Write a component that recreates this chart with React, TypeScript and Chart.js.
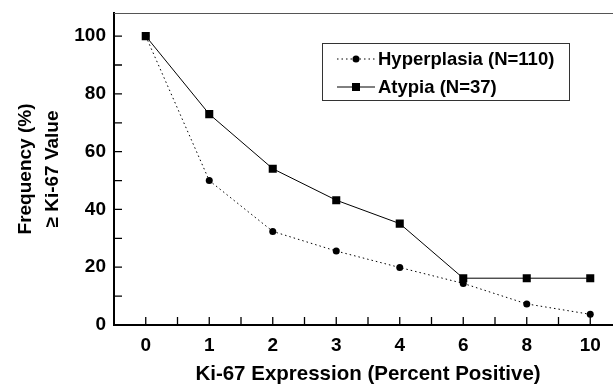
import React, { useEffect, useRef } from "react";
import { Chart, registerables } from "chart.js";

Chart.register(...registerables);

const categories = ["0", "1", "2", "3", "4", "6", "8", "10"];
const hyperplasia = [100, 50, 32.4, 25.6, 19.9, 14.4, 7.3, 3.7];
const atypia = [100, 73, 54.1, 43.2, 35.1, 16.2, 16.2, 16.2];
const yTickValues = [0, 10, 20, 30, 40, 50, 60, 70, 80, 90, 100];
const seriesLabels = ["Hyperplasia (N=110)", "Atypia (N=37)"];

const FONT = "'Liberation Sans', Arial, Helvetica, sans-serif";

const innerTicks = {
  id: "innerTicks",
  afterDraw(chart: any) {
    const { ctx, chartArea } = chart;
    const xs = chart.scales.x;
    const ys = chart.scales.y;
    ctx.save();
    ctx.beginPath();
    ctx.strokeStyle = "#555";
    ctx.lineWidth = 1;
    ctx.moveTo(chartArea.left, chartArea.top + 0.5);
    ctx.lineTo(chartArea.right, chartArea.top + 0.5);
    ctx.stroke();
    ctx.strokeStyle = "#000";
    ctx.lineWidth = 1.3;
    ctx.beginPath();
    ys.ticks.forEach((t: any) => {
      const y = ys.getPixelForValue(t.value);
      ctx.moveTo(chartArea.left, y);
      ctx.lineTo(chartArea.left + 8, y);
    });
    const n = categories.length;
    for (let i = 0; i < n; i++) {
      const x = xs.getPixelForValue(i);
      ctx.moveTo(x, chartArea.bottom);
      ctx.lineTo(x, chartArea.bottom - 8);
      if (i < n - 1) {
        const xm = (x + xs.getPixelForValue(i + 1)) / 2;
        ctx.moveTo(xm, chartArea.bottom);
        ctx.lineTo(xm, chartArea.bottom - 8);
      }
    }
    ctx.stroke();
    ctx.restore();
  },
};

const boxLegend = {
  id: "boxLegend",
  afterDraw(chart: any) {
    const { ctx, chartArea } = chart;
    const left = chartArea.left + 208;
    const top = chartArea.top + 30;
    const w = 247;
    const h = 57;
    ctx.save();
    ctx.strokeStyle = "#333";
    ctx.lineWidth = 1;
    ctx.strokeRect(left + 0.5, top + 0.5, w, h);
    ctx.font = `bold 18.5px ${FONT}`;
    ctx.fillStyle = "#000";
    ctx.textBaseline = "middle";
    chart.data.datasets.forEach((ds: any, i: number) => {
      const cy = top + 16 + i * 28;
      const x0 = left + 15;
      const x1 = left + 53;
      const xm = (x0 + x1) / 2;
      ctx.beginPath();
      ctx.setLineDash(ds.borderDash || []);
      ctx.strokeStyle = ds.borderColor;
      ctx.lineWidth = 1;
      ctx.moveTo(x0, cy);
      ctx.lineTo(x1, cy);
      ctx.stroke();
      ctx.setLineDash([]);
      ctx.fillStyle = "#000";
      if (ds.pointStyle === "rect") {
        ctx.fillRect(xm - 4, cy - 4, 8, 8);
      } else {
        ctx.beginPath();
        ctx.arc(xm, cy, 3.5, 0, Math.PI * 2);
        ctx.fill();
      }
      ctx.fillText(ds.label, left + 56, cy + 1);
    });
    ctx.restore();
  },
};

export default function App() {
  const ref = useRef<HTMLCanvasElement>(null);
  useEffect(() => {
    const canvas = ref.current!;
    const chart = new Chart(canvas, {
      type: "line",
      data: {
        labels: categories,
        datasets: [
          {
            label: seriesLabels[0],
            data: hyperplasia,
            borderColor: "#000",
            backgroundColor: "#000",
            borderWidth: 1,
            borderDash: [1.5, 3],
            pointStyle: "circle",
            pointRadius: 3.5,
            pointBorderWidth: 0,
          },
          {
            label: seriesLabels[1],
            data: atypia,
            borderColor: "#000",
            backgroundColor: "#000",
            borderWidth: 1,
            pointStyle: "rect",
            pointRadius: 5.7,
            pointBorderWidth: 0,
          },
        ],
      },
      options: {
        responsive: false,
        animation: false,
        layout: { padding: { top: 13, right: 8, left: 0, bottom: 0 } },
        plugins: { legend: { display: false }, tooltip: { enabled: false } },
        scales: {
          x: {
            type: "category",
            offset: true,
            grid: { display: false, drawTicks: false, tickLength: 0 },
            border: { display: true, color: "#000", width: 2 },
            ticks: {
              color: "#000",
              padding: 9,
              maxRotation: 0,
              font: { family: FONT, size: 19, weight: "bold" },
            },
            title: {
              display: true,
              text: "Ki-67 Expression (Percent Positive)",
              color: "#000",
              font: { family: FONT, size: 20.5, weight: "bold" },
              padding: { top: 0, bottom: -2 },
            },
            afterFit: (s: any) => {
              s.height = 60;
              s.paddingLeft = 0;
              s.paddingRight = 0;
            },
          },
          y: {
            min: 0,
            max: 108,
            grid: { display: false, drawTicks: false, tickLength: 0 },
            border: { display: true, color: "#000", width: 2 },
            afterBuildTicks: (s: any) => {
              s.ticks = yTickValues.map((v) => ({ value: v }));
            },
            ticks: {
              color: "#000",
              padding: 8,
              font: { family: FONT, size: 19, weight: "bold" },
              callback: (v: any) => (Number(v) % 20 === 0 ? String(v) : ""),
            },
            title: {
              display: true,
              text: ["Frequency (%)", "\u2265 Ki-67 Value"],
              color: "#000",
              font: { family: FONT, size: 19, weight: "bold", lineHeight: 1.42 },
              padding: { top: 12, bottom: 0 },
            },
            afterFit: (s: any) => {
              s.width = 114;
              s.paddingTop = 0;
              s.paddingBottom = 0;
            },
          },
        },
      },
      plugins: [innerTicks, boxLegend],
    });
    return () => chart.destroy();
  }, []);
  return (
    <div
      style={{
        position: "absolute",
        left: 0,
        top: 0,
        width: 613,
        height: 385,
        overflow: "hidden",
        background: "#fff",
      }}
    >
      <canvas ref={ref} width={630} height={385} style={{ display: "block" }} />
    </div>
  );
}
